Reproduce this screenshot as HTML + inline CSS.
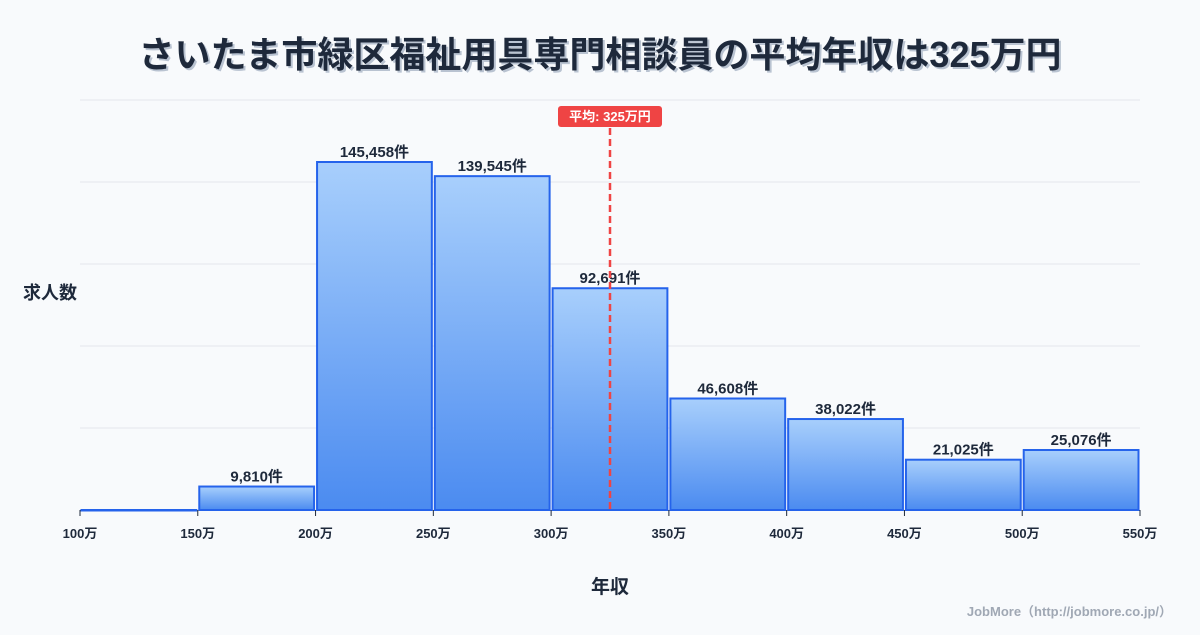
<!DOCTYPE html>
<html><head><meta charset="utf-8"><style>
body{margin:0;background:#f8fafc;width:1200px;height:630px;overflow:hidden;font-family:"Liberation Sans","Noto Sans CJK JP",sans-serif;}
</style></head><body>
<svg id="chart" width="1200" height="630" xmlns="http://www.w3.org/2000/svg">
<defs><linearGradient id="g" x1="0" y1="0" x2="0" y2="1"><stop offset="0" stop-color="#a8cffc"/><stop offset="1" stop-color="#4b8bf0"/></linearGradient></defs>
<text x="602" y="69" text-anchor="middle" font-size="36" font-weight="bold" fill="#b9c3d1" font-family="Liberation Sans,Noto Sans CJK JP,sans-serif">さいたま市緑区福祉用具専門相談員の平均年収は325万円</text>
<text x="600" y="67" text-anchor="middle" font-size="36" font-weight="bold" fill="#1e293b" font-family="Liberation Sans,Noto Sans CJK JP,sans-serif">さいたま市緑区福祉用具専門相談員の平均年収は325万円</text>
<g id="grid"></g><g id="bars"></g><g id="xticks"></g>
<text x="50" y="299" text-anchor="middle" font-size="18" font-weight="bold" fill="#1e293b">求人数</text>
<text x="610" y="593" text-anchor="middle" font-size="19" font-weight="bold" fill="#1e293b">年収</text>
<text x="1172" y="616" text-anchor="end" font-size="13" font-weight="bold" fill="#a0a8b4">JobMore（http://jobmore.co.jp/）</text>
</svg>
<script>
const binEdges=[100,150,200,250,300,350,400,450,500,550];
const counts=[0,9810,145458,139545,92691,46608,38022,21025,25076];
const labels=["","9,810件","145,458件","139,545件","92,691件","46,608件","38,022件","21,025件","25,076件"];
const meanValue=325;
const meanLabel="平均: 325万円";
const NS="http://www.w3.org/2000/svg";
const X0=80,X1=1140,Y0=510,Y1=100;
const ymax=Math.max(...counts)*410/348;
const xs=v=>X0+(v-binEdges[0])/(binEdges[binEdges.length-1]-binEdges[0])*(X1-X0);
const ys=v=>Y0-v/ymax*(Y0-Y1);
function mk(t,a,p){const e=document.createElementNS(NS,t);for(const k in a)e.setAttribute(k,a[k]);p.appendChild(e);return e;}
const grid=document.getElementById('grid');
for(let i=0;i<=5;i++){const y=Y0-i*82;const l=mk('line',{x1:X0,x2:X1,y1:y,y2:y,stroke:'#e5e7eb','stroke-width':1},grid);

}
const bars=document.getElementById('bars');
counts.forEach((c,i)=>{const x=xs(binEdges[i])+1.5,w=xs(binEdges[i+1])-xs(binEdges[i])-3,y=ys(c);
const r=mk('rect',{x:x,y:y,width:w,height:Math.max(Y0-y,0.5),fill:'url(#g)',stroke:'#2563eb','stroke-width':2},bars);


if(labels[i]){const t=mk('text',{x:x+w/2,y:y-5,'text-anchor':'middle','font-size':15,'font-weight':'bold',fill:'#1e293b'},bars);t.textContent=labels[i];

}});
const xt=document.getElementById('xticks');
binEdges.forEach(v=>{const x=xs(v);const l=mk('line',{x1:x,x2:x,y1:Y0,y2:Y0+6,stroke:'#1e293b','stroke-width':1},xt);


const t=mk('text',{x:x,y:Y0+28,'text-anchor':'middle','font-size':13,'font-weight':'bold',fill:'#1e293b'},xt);t.textContent=v+'万';

});
const mx=xs(meanValue);
const ml=mk('line',{x1:mx,x2:mx,y1:128,y2:Y0,stroke:'#ef4444','stroke-width':2.5,'stroke-dasharray':'7,4'},xt);


const mb=mk('rect',{x:mx-52,y:106,width:104,height:21,rx:3,fill:'#ef4444'},xt);


const mt=mk('text',{x:mx,y:121,'text-anchor':'middle','font-size':13,'font-weight':'bold',fill:'#fff'},xt);mt.textContent=meanLabel;


</script>
</body></html>
